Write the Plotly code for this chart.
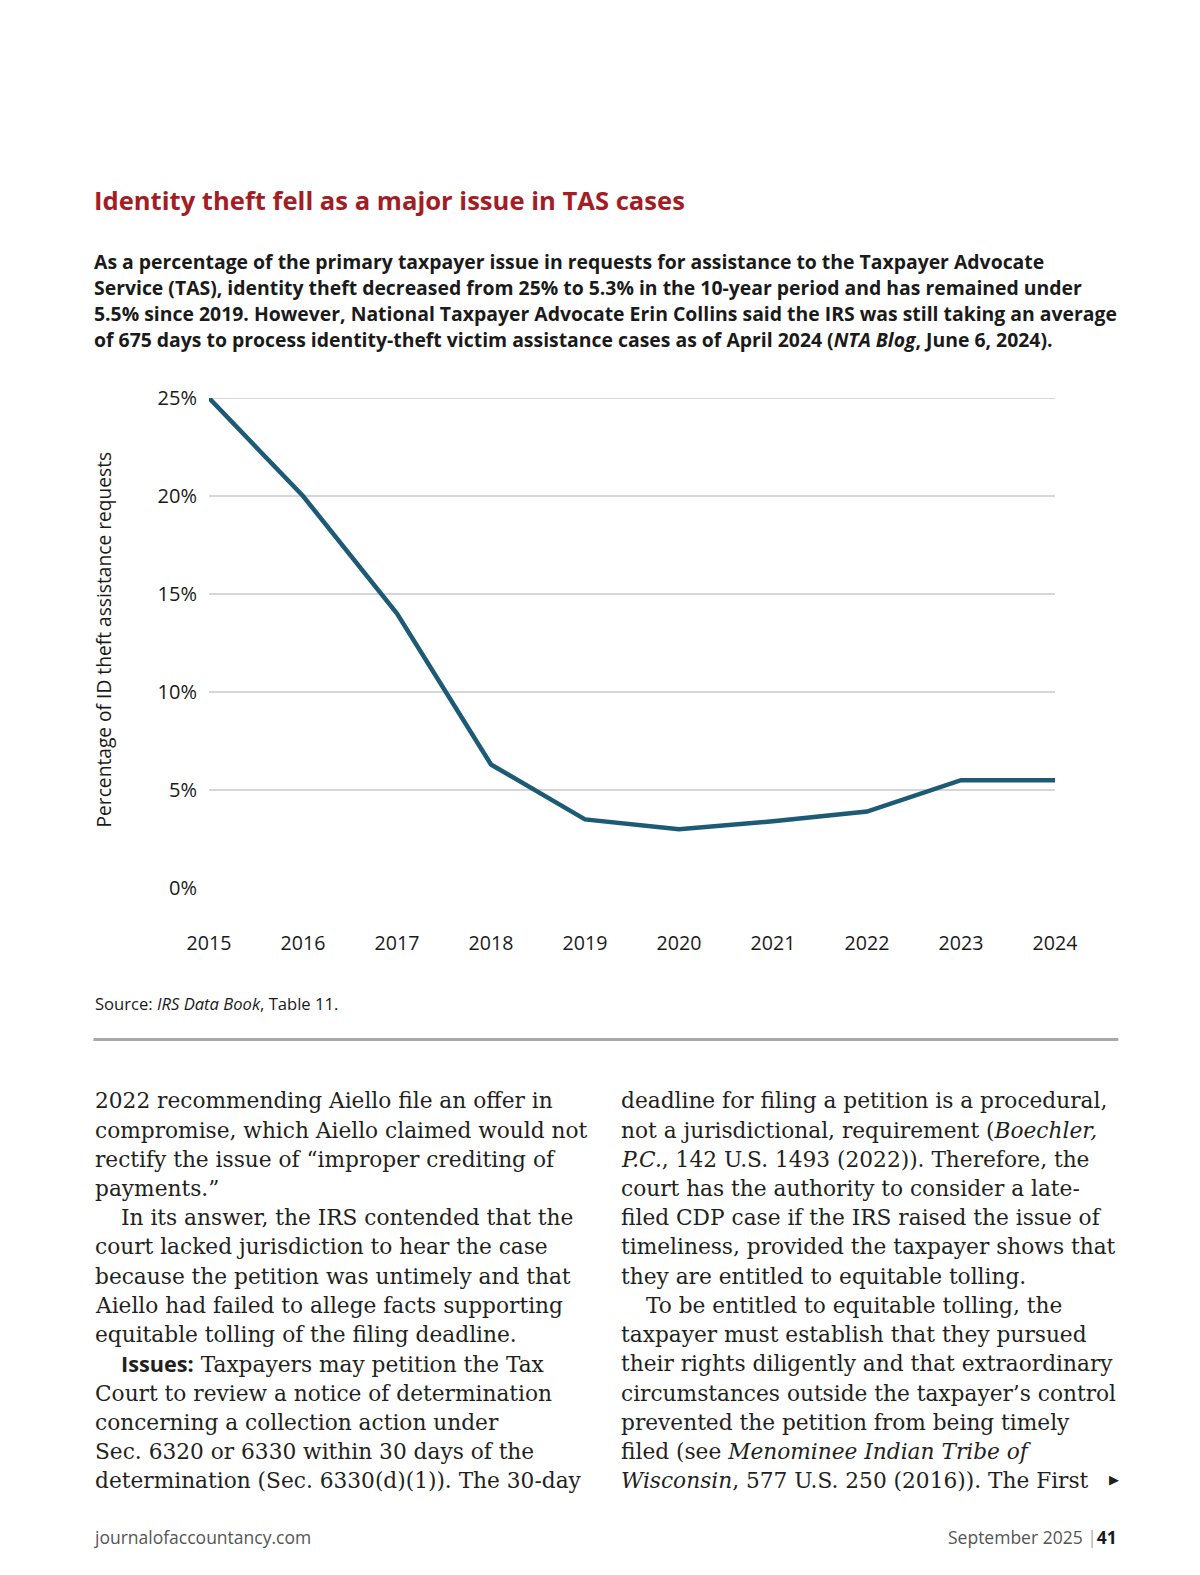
import plotly.graph_objects as go

# ---- data ----
years = [2015, 2016, 2017, 2018, 2019, 2020, 2021, 2022, 2023, 2024]
id_theft_pct = [25.0, 20.0, 14.0, 6.3, 3.5, 3.0, 3.4, 3.9, 5.5, 5.5]
y_ticks = [0, 5, 10, 15, 20, 25]
y_tick_labels = ["0%", "5%", "10%", "15%", "20%", "25%"]

title_text = "Identity theft fell as a major issue in TAS cases"
subtitle_lines = [
    "As a percentage of the primary taxpayer issue in requests for assistance to the Taxpayer Advocate",
    "Service (TAS), identity theft decreased from 25% to 5.3% in the 10-year period and has remained under",
    "5.5% since 2019. However, National Taxpayer Advocate Erin Collins said the IRS was still taking an average",
    "of 675 days to process identity-theft victim assistance cases as of April 2024 (<i>NTA Blog</i>, June 6, 2024).",
]
source_text = "Source: <i>IRS Data Book</i>, Table 11."
y_title = "Percentage of ID theft assistance requests"

left_col = [
    (0, "2022 recommending Aiello file an offer in"),
    (0, "compromise, which Aiello claimed would not"),
    (0, "rectify the issue of “improper crediting of"),
    (0, "payments.”"),
    (1, "In its answer, the IRS contended that the"),
    (0, "court lacked jurisdiction to hear the case"),
    (0, "because the petition was untimely and that"),
    (0, "Aiello had failed to allege facts supporting"),
    (0, "equitable tolling of the filing deadline."),
    (1, "<span style='font-family:Open Sans;font-weight:bold'>Issues:</span> Taxpayers may petition the Tax"),
    (0, "Court to review a notice of determination"),
    (0, "concerning a collection action under"),
    (0, "Sec. 6320 or 6330 within 30 days of the"),
    (0, "determination (Sec. 6330(d)(1)). The 30-day"),
]
right_col = [
    (0, "deadline for filing a petition is a procedural,"),
    (0, "not a jurisdictional, requirement (<i>Boechler,</i>"),
    (0, "<i>P.C.</i>, 142 U.S. 1493 (2022)). Therefore, the"),
    (0, "court has the authority to consider a late-"),
    (0, "filed CDP case if the IRS raised the issue of"),
    (0, "timeliness, provided the taxpayer shows that"),
    (0, "they are entitled to equitable tolling."),
    (1, "To be entitled to equitable tolling, the"),
    (0, "taxpayer must establish that they pursued"),
    (0, "their rights diligently and that extraordinary"),
    (0, "circumstances outside the taxpayer’s control"),
    (0, "prevented the petition from being timely"),
    (0, "filed (see <i>Menominee Indian Tribe of</i>"),
    (0, "<i>Wisconsin</i>, 577 U.S. 250 (2016)). The First"),
]

# ---- layout geometry ----
# page has an 8px body margin; S converts my estimated page positions to true pixels
OFF = 8
S = 1.005
W, H = 1200 - 2 * OFF - 4, 1548


def page_x(x):
    return x * S - OFF


def page_y(y):
    return y * S - OFF


L = page_x(208)
T = page_y(396)
R = W - page_x(1050)
B = H - page_y(884)
PW, PH = W - L - R, H - T - B


def px(x):
    return (page_x(x) - L) / PW


def py(y):
    return (H - B - page_y(y)) / PH


SANS = "Open Sans"
SERIF = "DejaVu Serif"

fig = go.Figure()
fig.add_trace(go.Scatter(
    x=years, y=id_theft_pct, mode="lines",
    line=dict(color="#1d5a75", width=4.5),
    cliponaxis=False, hoverinfo="skip", showlegend=False,
))

shapes = []
for v in y_ticks:
    if v > 0:
        shapes.append(dict(type="line", xref="paper", yref="y", x0=0, x1=1, y0=v, y1=v,
                           line=dict(color="#d6d6d6", width=2), layer="below"))
# horizontal rule below source
shapes.append(dict(type="line", xref="paper", yref="paper", x0=px(93), x1=px(1113),
                   y0=py(1035), y1=py(1035), line=dict(color="#a8a8a8", width=3)))

ann = []
ann.append(dict(text="<b>" + title_text + "</b>", x=px(92), y=py(199), xref="paper", yref="paper",
                xanchor="left", yanchor="middle", showarrow=False,
                font=dict(family=SANS, size=25.6, color="#a31d25")))
for i, s in enumerate(subtitle_lines):
    ann.append(dict(text="<b>" + s + "</b>", x=px(92), y=py(260 + 26 * i), xref="paper", yref="paper",
                    xanchor="left", yanchor="middle", showarrow=False,
                    font=dict(family=SANS, size=19.4, color="#1a1a1a")))
ann.append(dict(text=y_title, x=px(103), y=py(637), xref="paper", yref="paper",
                xanchor="center", yanchor="middle", textangle=-90, showarrow=False,
                font=dict(family=SANS, size=19.2, color="#1a1a1a")))
ann.append(dict(text=source_text, x=px(93), y=py(999), xref="paper", yref="paper",
                xanchor="left", yanchor="middle", showarrow=False,
                font=dict(family=SANS, size=16.6, color="#1a1a1a")))

for col, x0 in ((left_col, 93), (right_col, 616)):
    for i, (indent, s) in enumerate(col):
        ann.append(dict(text=s, x=px(x0 + 25 * indent), y=py(1096 + 29.1 * i), xref="paper", yref="paper",
                        xanchor="left", yanchor="middle", showarrow=False,
                        font=dict(family=SERIF, size=21.7, color="#231f20")))
ann.append(dict(text="▶", x=px(1109), y=py(1473), xref="paper", yref="paper",
                xanchor="center", yanchor="middle", showarrow=False,
                font=dict(family=SANS, size=13, color="#231f20")))

ann.append(dict(text="journalofaccountancy.com", x=px(92), y=py(1530), xref="paper", yref="paper",
                xanchor="left", yanchor="middle", showarrow=False,
                font=dict(family=SANS, size=17.5, color="#555555")))
ann.append(dict(text="September 2025 <span style='color:#aaaaaa'>|</span><b style='color:#1a1a1a'>41</b>",
                x=px(1114), y=py(1530), xref="paper", yref="paper",
                xanchor="right", yanchor="middle", showarrow=False,
                font=dict(family=SANS, size=17.5, color="#555555")))

fig.update_layout(
    width=W, height=H,
    margin=dict(l=L, r=R, t=T, b=B, pad=0),
    paper_bgcolor="white", plot_bgcolor="white",
    shapes=shapes, annotations=ann,
    xaxis=dict(range=[years[0], years[-1]], tickvals=years, ticktext=[str(y) for y in years],
               showgrid=False, zeroline=False, showline=False, ticks="",
               ticklabelstandoff=41, tickfont=dict(family=SANS, size=19.6, color="#1a1a1a")),
    yaxis=dict(range=[0, 25], tickvals=y_ticks, ticktext=y_tick_labels,
               showgrid=False, zeroline=False, showline=False, ticks="",
               ticklabelstandoff=11, tickfont=dict(family=SANS, size=20, color="#1a1a1a")),
)

fig.write_html("out.html")
